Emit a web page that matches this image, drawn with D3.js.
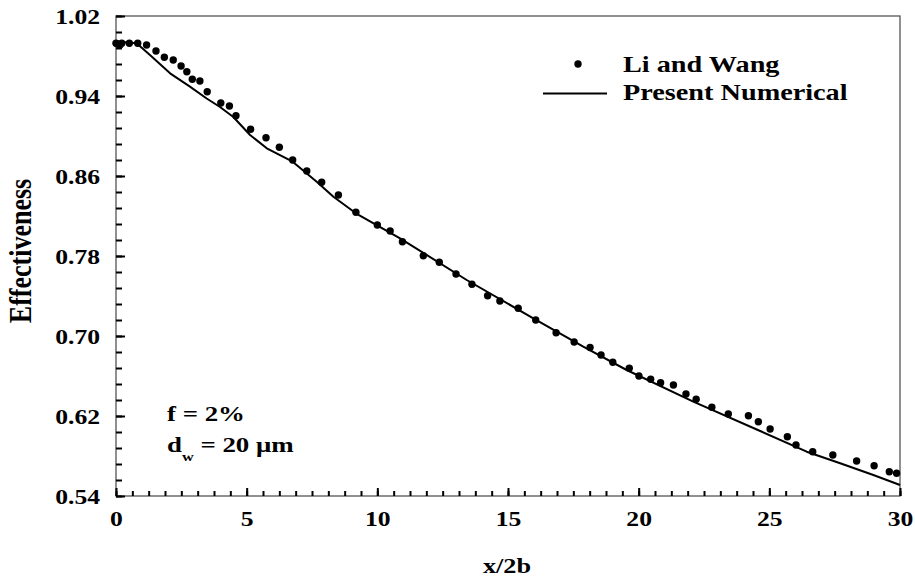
<!DOCTYPE html>
<html><head><meta charset="utf-8">
<script src="https://cdn.jsdelivr.net/npm/d3@7"></script>
<style>
body{margin:0;background:#fff}
svg{display:block}
text{font-family:"Liberation Serif","Times New Roman",serif;font-weight:bold;fill:#000}
</style>
</head><body>
<svg id="c" width="915" height="577"></svg>
<script>
// ---- data ----
const xTicks = [0, 5, 10, 15, 20, 25, 30];
const yTicks = [0.54, 0.62, 0.70, 0.78, 0.86, 0.94, 1.02];

// Li and Wang (symbols)
const liX = [0.00, 0.06, 0.15, 0.22, 0.51, 0.83, 1.17, 1.53, 1.85, 2.19, 2.49, 2.71, 2.92, 3.21, 3.49,
  4.01, 4.34, 4.59, 5.15, 5.74, 6.25, 6.76, 7.30, 7.87, 8.51, 9.18, 10.00, 10.49, 10.96, 11.76,
  12.37, 13.01, 13.62, 14.22, 14.69, 15.39, 16.06, 16.84, 17.53, 18.14, 18.56, 19.01, 19.64, 20.01,
  20.46, 20.84, 21.33, 21.81, 22.20, 22.80, 23.43, 24.20, 24.58, 25.03, 25.69, 26.02, 26.66, 27.43,
  28.34, 29.01, 29.59, 29.87];
const liY = [0.9927, 0.9920, 0.9910, 0.9927, 0.9927, 0.9927, 0.9910, 0.9850, 0.9787, 0.9760, 0.9700, 0.9643, 0.9567, 0.9550, 0.9443,
  0.9330, 0.9300, 0.9203, 0.9068, 0.8983, 0.8887, 0.8760, 0.8650, 0.8537, 0.8410, 0.8237, 0.8110, 0.8050, 0.7943, 0.7803,
  0.7737, 0.7620, 0.7517, 0.7403, 0.7350, 0.7277, 0.7160, 0.7033, 0.6940, 0.6885, 0.6810, 0.6737, 0.6677, 0.6600,
  0.6567, 0.6533, 0.6510, 0.6420, 0.6367, 0.6287, 0.6220, 0.6203, 0.6143, 0.6070, 0.5993, 0.5910, 0.5843, 0.5810,
  0.5750, 0.5703, 0.5643, 0.5627];

// Present Numerical (line)
const numX = [0.00, 0.79, 1.30, 2.07, 2.83, 3.47, 3.98, 4.49, 5.13, 5.77, 6.76, 7.68, 8.32, 9.18, 10.87,
  13.42, 15.97, 17.88, 19.54, 22.09, 24.65, 26.43, 27.71, 28.98, 30.00];
const numY = [0.9945, 0.9927, 0.9810, 0.9627, 0.9493, 0.9375, 0.9290, 0.9190, 0.9010, 0.8877, 0.8743, 0.8543, 0.8393, 0.8227, 0.7977,
  0.7560, 0.7177, 0.6893, 0.6660, 0.6343, 0.6050, 0.5843, 0.5727, 0.5610, 0.5510];

const legendLabels = ["Li and Wang", "Present Numerical"];
const xTitle = "x/2b", yTitle = "Effectiveness";

// ---- chart ----
const svg = d3.select("#c");
const m = {l: 116, r: 900, t: 16, b: 496};
const SX = 1.25; // horizontal stretch of the lettering
const x = d3.scaleLinear().domain([0, 30]).range([m.l, m.r]);
const y = d3.scaleLinear().domain([0.54, 1.02]).range([m.b, m.t]);
const xMinor = d3.range(0, 30.0001, 0.625);
const yMinor = d3.range(0.54, 1.0201, 0.016);

// frame
svg.append("rect").attr("x", m.l).attr("y", m.t).attr("width", m.r - m.l).attr("height", m.b - m.t)
  .attr("fill", "none").attr("stroke", "#555").attr("stroke-width", 1.3);

function styleTicks(g) {
  g.select(".domain").remove();
  g.attr("font-family", null).attr("font-size", null);
  g.selectAll("line").attr("stroke", "#000").attr("stroke-width", 2);
}

// x axis
svg.append("g").attr("transform", `translate(0,${m.b})`)
  .call(d3.axisBottom(x).tickValues(xMinor).tickSize(-5).tickFormat(""))
  .call(styleTicks);
svg.append("g").attr("transform", `translate(0,${m.b})`)
  .call(d3.axisBottom(x).tickValues(xTicks).tickSize(-8).tickFormat(d3.format("d")))
  .call(styleTicks)
  .call(g => g.selectAll("text").attr("y", 0).attr("dy", null)
    .attr("transform", `translate(0,30) scale(${SX},1)`)
    .attr("text-anchor", "middle").style("font-size", "20.5px"));

// y axis
svg.append("g").attr("transform", `translate(${m.l},0)`)
  .call(d3.axisLeft(y).tickValues(yMinor).tickSize(-6).tickFormat(""))
  .call(styleTicks);
svg.append("g").attr("transform", `translate(${m.l},0)`)
  .call(d3.axisLeft(y).tickValues(yTicks).tickSize(-9).tickFormat(d3.format(".2f")))
  .call(styleTicks)
  .call(g => g.selectAll("text").attr("x", 0).attr("dy", "0.35em")
    .attr("transform", `translate(-16,0) scale(${SX},1)`)
    .attr("text-anchor", "end").style("font-size", "20.5px"));

// axis titles
svg.append("text").attr("transform", `translate(507,573) scale(${SX},1)`)
  .attr("text-anchor", "middle").style("font-size", "21px").text(xTitle);
svg.append("text").attr("transform", `translate(31,251) scale(${SX},1) rotate(-90)`)
  .attr("text-anchor", "middle").style("font-size", "26px").text(yTitle);

// numerical line
const line = d3.line().x((d, i) => x(numX[i])).y((d, i) => y(numY[i]));
svg.append("path").datum(numX).attr("d", line)
  .attr("fill", "none").attr("stroke", "#000").attr("stroke-width", 2).attr("stroke-linejoin", "round");

// Li and Wang dots
svg.append("g").selectAll("circle").data(liX).join("circle")
  .attr("cx", (d) => x(d)).attr("cy", (d, i) => y(liY[i])).attr("r", 3.7).attr("fill", "#000");

// legend
svg.append("circle").attr("cx", 578).attr("cy", 64).attr("r", 3.7).attr("fill", "#000");
svg.append("line").attr("x1", 543).attr("x2", 607).attr("y1", 93.5).attr("y2", 93.5)
  .attr("stroke", "#000").attr("stroke-width", 2);
svg.append("text").attr("transform", `translate(623,72) scale(${SX},1)`).style("font-size", "22.6px").text(legendLabels[0]);
svg.append("text").attr("transform", `translate(623,100) scale(${SX},1)`).style("font-size", "22.6px").text(legendLabels[1]);

// annotations
svg.append("text").attr("transform", `translate(167,421) scale(${SX},1)`).style("font-size", "21.5px").text("f = 2%");
const t2 = svg.append("text").attr("transform", `translate(167,452) scale(${SX},1)`).style("font-size", "21.5px");
t2.append("tspan").text("d");
t2.append("tspan").attr("dy", 9).style("font-size", "13px").text("w");
t2.append("tspan").attr("dy", -9).text(" = 20 μm");
</script>
</body></html>
